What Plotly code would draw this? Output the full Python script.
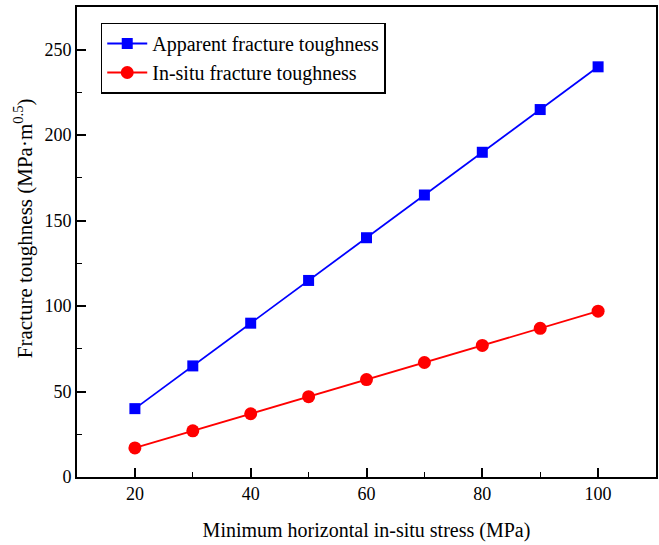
import plotly.graph_objects as go

stress = [20, 30, 40, 50, 60, 70, 80, 90, 100]
apparent = [40, 65, 90, 115, 140, 165, 190, 215, 240]
in_situ = [17, 27, 37, 47, 57, 67, 77, 87, 97]

FONT = "Liberation Serif, Times New Roman, serif"

fig = go.Figure()
fig.add_trace(go.Scatter(
    x=stress, y=apparent, mode="lines+markers",
    name="Apparent fracture toughness",
    line=dict(color="#0000ff", width=1.8),
    marker=dict(symbol="square", size=11, color="#0000ff"),
))
fig.add_trace(go.Scatter(
    x=stress, y=in_situ, mode="lines+markers",
    name="In-situ fracture toughness",
    line=dict(color="#ff0000", width=1.8),
    marker=dict(symbol="circle", size=13, color="#ff0000"),
))

axis_common = dict(
    showline=True, linecolor="black", linewidth=1.6, mirror=True,
    ticks="inside", ticklen=9, tickwidth=1.6, tickcolor="black",
    showgrid=False, zeroline=False,
    tickfont=dict(family=FONT, size=18, color="black"),
)

fig.update_xaxes(
    range=[10, 110], tickvals=[20, 40, 60, 80, 100],
    minor=dict(ticks="inside", ticklen=5, tickwidth=1.4, tickcolor="black",
               tickvals=[30, 50, 70, 90]),
    title=dict(text="Minimum horizontal in-situ stress (MPa)",
               font=dict(family=FONT, size=20, color="black"), standoff=20),
    **axis_common,
)
fig.update_yaxes(
    range=[0, 275], tickvals=[0, 50, 100, 150, 200, 250],
    minor=dict(ticks="inside", ticklen=5, tickwidth=1.4, tickcolor="black",
               tickvals=[25, 75, 125, 175, 225]),
    **axis_common,
)

# y-axis title placed as a rotated annotation
fig.add_annotation(
    text="Fracture toughness (MPa·m<sup>0.5</sup>)",
    xref="paper", yref="paper", x=-0.091, y=0.53,
    xanchor="center", yanchor="middle", textangle=-90, showarrow=False,
    font=dict(family=FONT, size=21, color="black"),
)

fig.update_layout(
    width=659, height=545,
    margin=dict(l=77, r=1, t=7, b=68),
    paper_bgcolor="white", plot_bgcolor="white",
    font=dict(family=FONT, color="black"),
    legend=dict(
        x=0.041, y=0.967, xanchor="left", yanchor="top",
        bgcolor="white", bordercolor="black", borderwidth=1.5,
        font=dict(family=FONT, size=20, color="black"),
        tracegroupgap=0, itemwidth=40,
    ),
)

fig.write_html("out.html")
